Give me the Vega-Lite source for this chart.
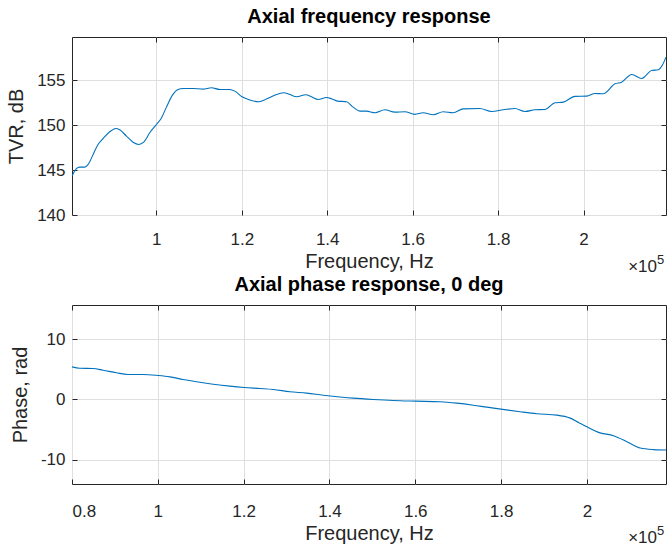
{
  "$schema": "https://vega.github.io/schema/vega-lite/v6.json",
  "padding": {"left": 6, "top": 6, "right": 0, "bottom": 0},
  "background": "white",
  "datasets": {
    "tvr": [
      {"f":80260,"v":144.33},{"f":81290,"v":145.15},{"f":82063,"v":145.33},{"f":83234,"v":145.33},{"f":84007,"v":145.6},{"f":85178,"v":146.7},{"f":86349,"v":147.85},{"f":87520,"v":148.5},{"f":89089,"v":149.26},{"f":90494,"v":149.63},{"f":91431,"v":149.48},{"f":93000,"v":148.78},{"f":94546,"v":148.1},{"f":95881,"v":147.85},{"f":97052,"v":148.1},{"f":98457,"v":149.15},{"f":100026,"v":150.07},{"f":101197,"v":150.8},{"f":102368,"v":152.0},{"f":103773,"v":153.33},{"f":105084,"v":153.96},{"f":106255,"v":154.07},{"f":108597,"v":154.07},{"f":110939,"v":154.0},{"f":112906,"v":154.15},{"f":114850,"v":153.96},{"f":117192,"v":153.96},{"f":118363,"v":153.78},{"f":120072,"v":153.15},{"f":121876,"v":152.8},{"f":123983,"v":152.6},{"f":125787,"v":152.9},{"f":127730,"v":153.33},{"f":129838,"v":153.6},{"f":131243,"v":153.4},{"f":132813,"v":153.15},{"f":134990,"v":153.37},{"f":136325,"v":153.15},{"f":137871,"v":152.85},{"f":139838,"v":153.07},{"f":141009,"v":152.93},{"f":142414,"v":152.67},{"f":144522,"v":152.6},{"f":146067,"v":152.0},{"f":147637,"v":151.56},{"f":149206,"v":151.56},{"f":151150,"v":151.37},{"f":153492,"v":151.7},{"f":155834,"v":151.44},{"f":158175,"v":151.48},{"f":160517,"v":151.19},{"f":162461,"v":151.37},{"f":164803,"v":151.15},{"f":167144,"v":151.48},{"f":169486,"v":151.37},{"f":171828,"v":151.81},{"f":175739,"v":151.85},{"f":178479,"v":151.52},{"f":181196,"v":151.7},{"f":183936,"v":151.85},{"f":186278,"v":151.52},{"f":188620,"v":151.7},{"f":190962,"v":151.74},{"f":193304,"v":152.48},{"f":195247,"v":152.56},{"f":197987,"v":153.19},{"f":200728,"v":153.22},{"f":202672,"v":153.52},{"f":204615,"v":153.48},{"f":207357,"v":154.59},{"f":208926,"v":154.78},{"f":211268,"v":155.63},{"f":213609,"v":155.19},{"f":215950,"v":156.07},{"f":217496,"v":156.15},{"f":218527,"v":156.74},{"f":219300,"v":157.56}
    ],
    "phase": [
      {"f":80000,"v":5.42},{"f":81796,"v":5.19},{"f":84899,"v":5.14},{"f":87232,"v":4.86},{"f":90359,"v":4.43},{"f":93065,"v":4.15},{"f":96564,"v":4.15},{"f":100064,"v":3.98},{"f":102793,"v":3.76},{"f":105896,"v":3.32},{"f":109023,"v":2.94},{"f":112895,"v":2.54},{"f":116791,"v":2.21},{"f":120128,"v":1.99},{"f":123790,"v":1.82},{"f":126893,"v":1.66},{"f":130789,"v":1.28},{"f":134686,"v":1.05},{"f":138558,"v":0.71},{"f":142454,"v":0.42},{"f":145557,"v":0.22},{"f":150223,"v":0.0},{"f":154889,"v":-0.17},{"f":160115,"v":-0.28},{"f":165784,"v":-0.38},{"f":169681,"v":-0.61},{"f":173553,"v":-0.95},{"f":176680,"v":-1.28},{"f":179946,"v":-1.61},{"f":184448,"v":-2.04},{"f":188345,"v":-2.37},{"f":193011,"v":-2.6},{"f":196113,"v":-3.1},{"f":198050,"v":-3.81},{"f":200010,"v":-4.53},{"f":202716,"v":-5.47},{"f":206215,"v":-6.02},{"f":209342,"v":-7.01},{"f":212444,"v":-8.08},{"f":215547,"v":-8.34},{"f":218440,"v":-8.41}
    ]
  },
  "spacing": -2,
  "vconcat": [
    {
      "title": {"text": "Axial frequency response"},
      "width": 594,
      "height": 178,
      "layer": [
        {
          "data": {"name": "tvr"},
          "mark": {"type": "line", "color": "#0072BD", "strokeWidth": 1.1, "clip": true, "interpolate": "monotone"},
          "encoding": {
            "x": {"field": "f", "type": "quantitative", "scale": {"domain": [80260, 219300], "nice": false, "zero": false},
                  "axis": {"orient": "bottom", "values": [100000, 120000, 140000, 160000, 180000, 200000], "labelExpr": "format(datum.value/100000, '~g')", "title": "Frequency, Hz", "labelPadding": 21, "titlePadding": 4}},
            "y": {"field": "v", "type": "quantitative", "scale": {"domain": [140, 159.8], "nice": false, "zero": false},
                  "axis": {"orient": "left", "values": [140, 145, 150, 155], "labelExpr": "'' + datum.value", "title": "TVR, dB", "labelPadding": 12, "titlePadding": 10}}
          }
        },
        {
          "data": {"name": "tvr"},
          "mark": {"type": "line", "strokeOpacity": 0},
          "encoding": {
            "x": {"field": "f", "type": "quantitative", "scale": {"domain": [80260, 219300], "nice": false, "zero": false},
                  "axis": {"orient": "top", "values": [100000, 120000, 140000, 160000, 180000, 200000], "labels": false, "grid": false, "title": null}},
            "y": {"field": "v", "type": "quantitative", "scale": {"domain": [140, 159.8], "nice": false, "zero": false},
                  "axis": {"orient": "right", "values": [140, 145, 150, 155], "labels": false, "grid": false, "title": null}}
          }
        },
        {
          "data": {"values": [{}]},
          "mark": {"type": "text", "align": "right", "baseline": "middle", "dx": -9, "dy": 52, "fontSize": 17, "color": "#262626", "font": "Liberation Sans"},
          "encoding": {
            "x": {"datum": 219300, "type": "quantitative", "scale": {"domain": [80260, 219300], "nice": false, "zero": false}, "axis": null},
            "y": {"datum": 140, "type": "quantitative", "scale": {"domain": [140, 159.8], "nice": false, "zero": false}, "axis": null},
            "text": {"value": "×10"}
          }
        },
        {
          "data": {"values": [{}]},
          "mark": {"type": "text", "align": "left", "baseline": "middle", "dx": -9, "dy": 45, "fontSize": 13, "color": "#262626", "font": "Liberation Sans"},
          "encoding": {
            "x": {"datum": 219300, "type": "quantitative", "scale": {"domain": [80260, 219300], "nice": false, "zero": false}, "axis": null},
            "y": {"datum": 140, "type": "quantitative", "scale": {"domain": [140, 159.8], "nice": false, "zero": false}, "axis": null},
            "text": {"value": "5"}
          }
        }
      ],
      "resolve": {"axis": {"x": "independent", "y": "independent"}}
    },
    {
      "title": {"text": "Axial phase response, 0 deg"},
      "width": 594,
      "height": 179,
      "layer": [
        {
          "data": {"name": "phase"},
          "mark": {"type": "line", "color": "#0072BD", "strokeWidth": 1.1, "clip": true, "interpolate": "monotone"},
          "encoding": {
            "x": {"field": "f", "type": "quantitative", "scale": {"domain": [80000, 218440], "nice": false, "zero": false},
                  "axis": {"orient": "bottom", "values": [80000, 100000, 120000, 140000, 160000, 180000, 200000], "labelExpr": "format(datum.value/100000, '~g')", "title": "Frequency, Hz", "labelPadding": 24, "titlePadding": 4}},
            "y": {"field": "v", "type": "quantitative", "scale": {"domain": [-14.05, 15.7], "nice": false, "zero": false},
                  "axis": {"orient": "left", "values": [-10, 0, 10], "labelExpr": "'' + datum.value", "title": "Phase, rad", "labelPadding": 12, "titlePadding": 10}}
          }
        },
        {
          "data": {"name": "phase"},
          "mark": {"type": "line", "strokeOpacity": 0},
          "encoding": {
            "x": {"field": "f", "type": "quantitative", "scale": {"domain": [80000, 218440], "nice": false, "zero": false},
                  "axis": {"orient": "top", "values": [80000, 100000, 120000, 140000, 160000, 180000, 200000], "labels": false, "grid": false, "title": null}},
            "y": {"field": "v", "type": "quantitative", "scale": {"domain": [-14.05, 15.7], "nice": false, "zero": false},
                  "axis": {"orient": "right", "values": [-10, 0, 10], "labels": false, "grid": false, "title": null}}
          }
        },
        {
          "data": {"values": [{}]},
          "mark": {"type": "text", "align": "right", "baseline": "middle", "dx": -9, "dy": 54, "fontSize": 17, "color": "#262626", "font": "Liberation Sans"},
          "encoding": {
            "x": {"datum": 218440, "type": "quantitative", "scale": {"domain": [80000, 218440], "nice": false, "zero": false}, "axis": null},
            "y": {"datum": -14.05, "type": "quantitative", "scale": {"domain": [-14.05, 15.7], "nice": false, "zero": false}, "axis": null},
            "text": {"value": "×10"}
          }
        },
        {
          "data": {"values": [{}]},
          "mark": {"type": "text", "align": "left", "baseline": "middle", "dx": -9, "dy": 47, "fontSize": 13, "color": "#262626", "font": "Liberation Sans"},
          "encoding": {
            "x": {"datum": 218440, "type": "quantitative", "scale": {"domain": [80000, 218440], "nice": false, "zero": false}, "axis": null},
            "y": {"datum": -14.05, "type": "quantitative", "scale": {"domain": [-14.05, 15.7], "nice": false, "zero": false}, "axis": null},
            "text": {"value": "5"}
          }
        }
      ],
      "resolve": {"axis": {"x": "independent", "y": "independent"}}
    }
  ],
  "config": {
    "font": "Liberation Sans",
    "view": {"stroke": "#262626", "strokeWidth": 1},
    "axis": {
      "domain": false,
      "grid": true,
      "gridColor": "#dfdfdf",
      "gridOpacity": 1,
      "gridWidth": 1,
      "ticks": true,
      "tickSize": -5,
      "tickColor": "#262626",
      "tickWidth": 1,
      "labelColor": "#262626",
      "labelFont": "Liberation Sans",
      "labelFontSize": 17,
      "titleColor": "#262626",
      "titleFont": "Liberation Sans",
      "titleFontSize": 20,
      "titleFontWeight": "normal"
    },
    "title": {"font": "Liberation Sans", "fontSize": 20, "fontWeight": "bold", "color": "#000000", "baseline": "alphabetic", "offset": 10, "anchor": "middle"}
  }
}
